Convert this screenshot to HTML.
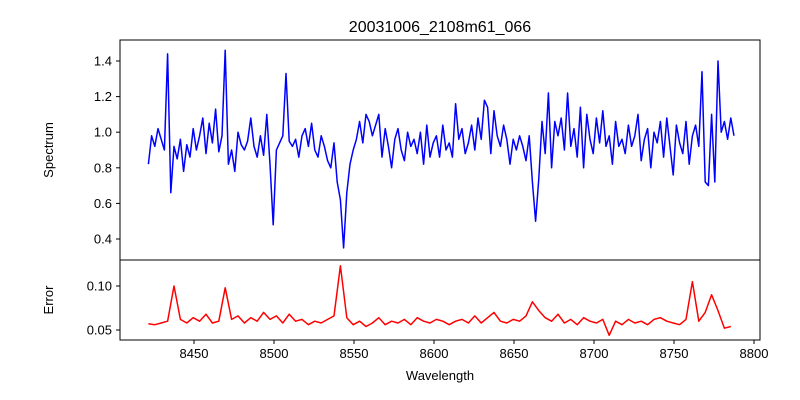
<!DOCTYPE html>
<html><head><meta charset="utf-8"><style>
body{margin:0;background:#fff}
svg{display:block;font-family:"Liberation Sans","DejaVu Sans",sans-serif}
</style></head><body>
<svg id="chart" width="800" height="400" viewBox="0 0 800 400">
<rect width="800" height="400" fill="#fff"/>
<text x="440" y="32" font-size="16" text-anchor="middle">20031006_2108m61_066</text>
<text transform="translate(53,150) rotate(-90)" font-size="13" text-anchor="middle">Spectrum</text>
<text transform="translate(53,300) rotate(-90)" font-size="13" text-anchor="middle">Error</text>
<text x="440" y="380" font-size="13" text-anchor="middle">Wavelength</text>
<g id="marks"></g>
<rect x="120" y="40" width="640" height="220" fill="none" stroke="#000" stroke-width="1"/>
<rect x="120" y="260" width="640" height="80" fill="none" stroke="#000" stroke-width="1"/>
</svg>
<script>
const specStart = 8421.5, specStep = 2;
const spectrum = [
0.82,0.98,0.92,1.02,0.96,0.90,1.44,0.66,0.92,0.85,
0.96,0.78,0.93,0.86,1.02,0.90,0.98,1.08,0.88,1.05,
0.94,1.13,0.89,0.98,1.46,0.82,0.90,0.78,1.00,0.93,
0.90,0.95,1.08,0.92,0.86,0.98,0.87,1.10,0.82,0.48,
0.90,0.94,0.98,1.33,0.95,0.92,0.96,0.86,0.98,1.02,
0.92,1.05,0.90,0.86,0.98,0.92,0.84,0.80,0.94,0.72,
0.62,0.35,0.66,0.82,0.90,0.96,1.06,0.94,1.10,1.06,
0.98,1.04,1.10,0.86,1.02,0.92,0.80,0.96,1.02,0.90,
0.84,1.00,0.92,0.96,0.88,1.00,0.82,1.04,0.86,0.94,
0.98,0.86,1.04,0.90,0.94,0.86,1.16,0.96,1.02,0.88,
0.94,1.04,0.90,1.08,0.96,1.18,1.14,0.88,1.12,0.98,
0.92,1.04,0.96,0.82,0.96,0.90,0.98,0.92,0.84,0.98,
0.72,0.50,0.74,1.06,0.88,1.22,0.80,1.06,0.98,1.08,
0.90,1.22,0.92,1.02,0.86,1.14,0.80,1.10,0.96,0.88,
1.08,0.94,1.12,0.92,0.98,0.82,1.06,0.92,0.96,0.88,
1.04,0.92,0.98,1.10,0.84,0.96,1.02,0.80,1.00,0.94,
1.06,0.86,1.08,0.92,0.76,1.04,0.94,0.88,1.06,0.82,
0.98,1.04,0.92,1.34,0.72,0.70,1.10,0.72,1.40,1.00,
1.06,0.96,1.08,0.98];
const errStart = 8421.5, errStep = 4;
const errors = [
.057,.056,.058,.060,.100,.062,.058,.064,.060,.068,
.058,.060,.098,.062,.066,.058,.064,.060,.070,.062,
.066,.058,.068,.060,.062,.056,.060,.058,.062,.066,
.123,.064,.056,.060,.054,.058,.064,.056,.060,.058,
.062,.056,.064,.060,.058,.062,.060,.056,.060,.062,
.058,.066,.058,.064,.070,.060,.058,.062,.060,.066,
.082,.072,.064,.060,.068,.058,.062,.056,.064,.060,
.058,.062,.044,.060,.056,.062,.058,.060,.056,.062,
.064,.060,.058,.056,.062,.105,.060,.070,.090,.072,
.052,.054];
const xTicks = [8450,8500,8550,8600,8650,8700,8750,8800];
const specTicks = [0.4,0.6,0.8,1.0,1.2,1.4];
const errTicks = [0.05,0.10];

const X = w => 114 + (w - 8400) * 1.6;
const YS = v => 239 - (v - 0.4) * 178;
const YE = v => 330 - (v - 0.05) * 880;
const NS = 'http://www.w3.org/2000/svg';
const g = document.getElementById('marks');
function mk(t, a){const e=document.createElementNS(NS,t);for(const k in a)e.setAttribute(k,a[k]);g.appendChild(e);return e;}

let d = spectrum.map((v,i)=>(i?'L':'M')+X(specStart+i*specStep).toFixed(1)+','+YS(v).toFixed(1)).join('');
const sp = mk('path',{d:d,fill:'none',stroke:'#0000ff','stroke-width':1.5,'stroke-linejoin':'round'});



d = errors.map((v,i)=>(i?'L':'M')+X(errStart+i*errStep).toFixed(1)+','+YE(v).toFixed(1)).join('');
const er = mk('path',{d:d,fill:'none',stroke:'#ff0000','stroke-width':1.5,'stroke-linejoin':'round'});



xTicks.forEach(w=>{
  const x = X(w);
  const t = mk('line',{x1:x,x2:x,y1:340,y2:344,stroke:'#000'});
  
  
  const l = mk('text',{x:x,y:358,'font-size':13,'text-anchor':'middle'});
  l.textContent = w;
  
  
});
specTicks.forEach(v=>{
  const y = YS(v);
  const t = mk('line',{x1:116,x2:120,y1:y,y2:y,stroke:'#000'});
  
  
  const l = mk('text',{x:112,y:y+4.5,'font-size':13,'text-anchor':'end'});
  l.textContent = v.toFixed(1);
  
  
});
errTicks.forEach(v=>{
  const y = YE(v);
  const t = mk('line',{x1:116,x2:120,y1:y,y2:y,stroke:'#000'});
  
  
  const l = mk('text',{x:112,y:y+4.5,'font-size':13,'text-anchor':'end'});
  l.textContent = v.toFixed(2);
  
  
});
</script>
</body></html>
